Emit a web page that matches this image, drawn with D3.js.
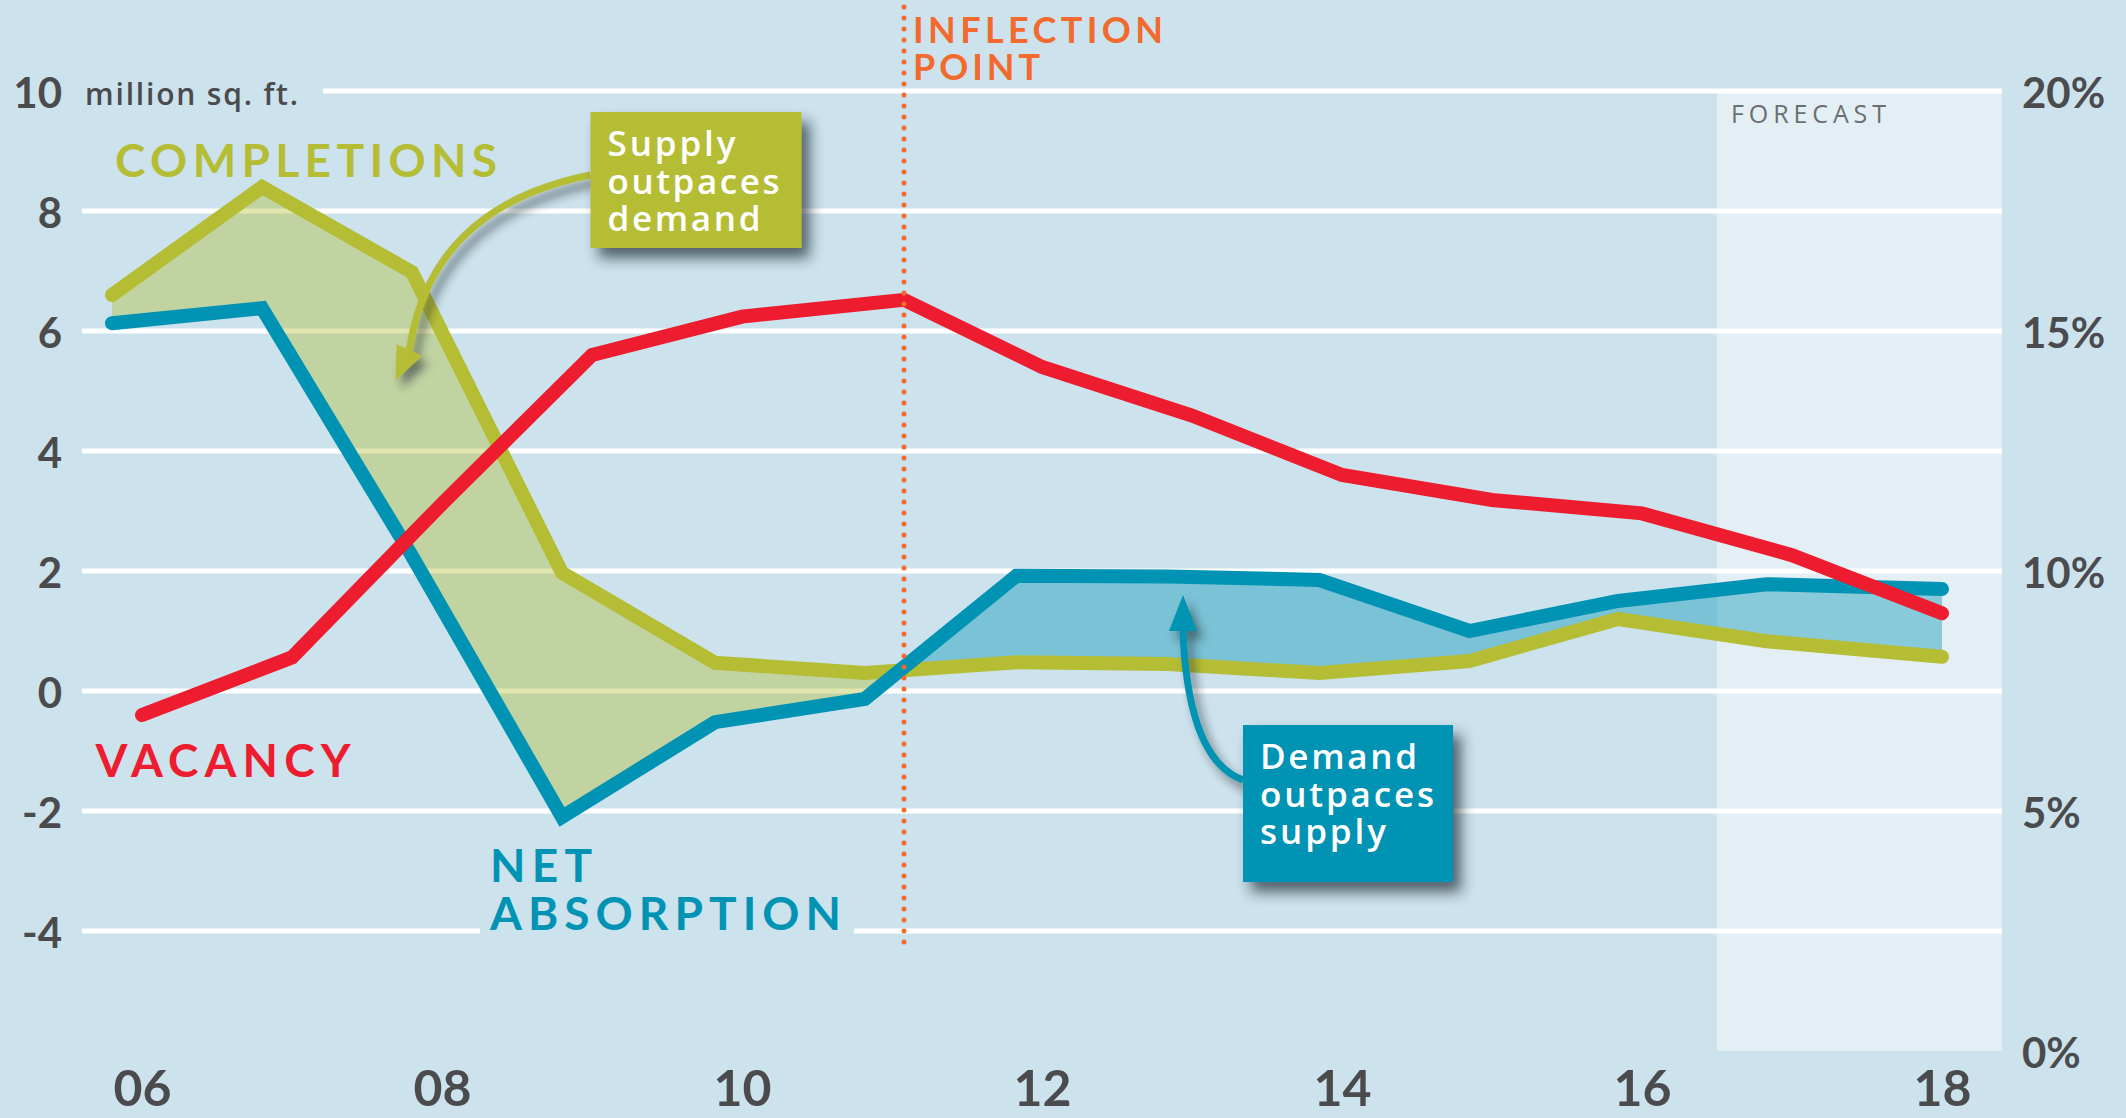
<!DOCTYPE html>
<html>
<head>
<meta charset="utf-8">
<script src="https://cdn.jsdelivr.net/npm/d3@7"></script>
<style>
  body { margin: 0; background: #cce2ec; }
  svg { display: block; }
</style>
</head>
<body>
<div id="viz"></div>
<script>
const width = 2126;
const height = 1118;
const font = "Lato, 'Open Sans', sans-serif";
const noteFont = "'Open Sans', Lato, sans-serif";

const bgColor = '#cce2ec';
const green = '#b5bd35';
const blue = '#0093b4';
const red = '#ed1c2e';
const orange = '#f26a2d';
const darkGray = '#4b4b4d';

// Data: completions & net absorption (million sq. ft.)
const supplyYears = [2005.8, 2006.8, 2007.8, 2008.8, 2009.82, 2010.82, 2011.83, 2012.84, 2013.85, 2014.85, 2015.84, 2016.83, 2018];
const completions = [6.6, 8.4, 6.98, 1.97, 0.47, 0.3, 0.48, 0.45, 0.3, 0.5, 1.2, 0.83, 0.57];
const netAbsorption = [6.13, 6.38, 2.25, -2.1, -0.52, -0.13, 1.92, 1.91, 1.85, 1.0, 1.5, 1.78, 1.7];

// Vacancy rate (%), right axis
const vacancyYears = [2006, 2007, 2008, 2009, 2010, 2011.08, 2012, 2013, 2014, 2015, 2016, 2017, 2018];
const vacancy = [7.0, 8.2, 11.4, 14.5, 15.3, 15.65, 14.25, 13.24, 12.0, 11.48, 11.2, 10.33, 9.12];

const leftTicks = [10, 8, 6, 4, 2, 0, -2, -4];
const rightTicks = [0, 5, 10, 15, 20];
const xTicks = [2006, 2008, 2010, 2012, 2014, 2016, 2018];

const inflectionYear = 2011.08;
const forecastStart = 2016.5;
const plotStart = 2005.6;
const plotEnd = 2018.4;

// Scales
const x = d3.scaleLinear().domain([2006, 2018]).range([142, 1942]);
const y = d3.scaleLinear().domain([-6, 10]).range([1051, 91]);
const yPct = d3.scaleLinear().domain([0, 20]).range([1051, 91]);

const supply = supplyYears.map((yr, i) => ({year: yr, comp: completions[i], abs: netAbsorption[i]}));
const vac = vacancyYears.map((yr, i) => ({year: yr, v: vacancy[i]}));

const svg = d3.select('#viz')
  .append('svg')
    .attr('width', width)
    .attr('height', height)
    .attr('viewBox', [0, 0, width, height])
    .style('font-family', font);

const defs = svg.append('defs');
defs.append('filter')
    .attr('id', 'boxShadow')
    .attr('x', '-30%').attr('y', '-30%').attr('width', '170%').attr('height', '170%')
  .append('feDropShadow')
    .attr('dx', 8).attr('dy', 10).attr('stdDeviation', 7)
    .attr('flood-color', '#1d2b33').attr('flood-opacity', 0.7);
defs.append('filter')
    .attr('id', 'arrowShadow')
    .attr('x', '-40%').attr('y', '-40%').attr('width', '180%').attr('height', '180%')
  .append('feDropShadow')
    .attr('dx', 6).attr('dy', 8).attr('stdDeviation', 5)
    .attr('flood-color', '#1d2b33').attr('flood-opacity', 0.55);

// clip regions above / below the completions line
const belowComp = d3.area().x(d => x(d.year)).y0(height).y1(d => y(d.comp));
const aboveComp = d3.area().x(d => x(d.year)).y0(0).y1(d => y(d.comp));
defs.append('clipPath').attr('id', 'clipBelow').append('path').attr('d', belowComp(supply));
defs.append('clipPath').attr('id', 'clipAbove').append('path').attr('d', aboveComp(supply));

svg.append('rect')
    .attr('width', width).attr('height', height)
    .attr('fill', bgColor);

// Forecast band
svg.append('rect')
    .attr('x', x(forecastStart))
    .attr('y', y(10))
    .attr('width', x(plotEnd) - x(forecastStart))
    .attr('height', y(-6) - y(10))
    .attr('fill', '#e3eff4');

// Left axis labels
const yAxisLeft = d3.axisLeft(y)
  .tickValues(leftTicks)
  .tickSize(0)
  .tickPadding(0)
  .tickFormat(d => String(d));
const yLeftGroup = svg.append('g')
    .attr('transform', 'translate(62,0)')
    .call(yAxisLeft)
    .attr('font-family', font)
    .attr('font-size', 42);
yLeftGroup.select('.domain').remove();
yLeftGroup.selectAll('text')
    .attr('fill', darkGray)
    .attr('dy', '0.4em')
    .style('font-weight', 700);

const unitLabel = svg.append('text')
    .attr('x', 85)
    .attr('y', y(10) + 14)
    .attr('fill', darkGray)
    .style('font-family', noteFont)
    .style('font-size', '30px')
    .style('font-weight', 600)
    .attr('textLength', 213)
    .attr('lengthAdjust', 'spacing')
    .text('million sq. ft.');
const unitEnd = unitLabel.node().getBBox();

// Gridlines
svg.append('g')
    .attr('class', 'grid')
  .selectAll('line')
  .data(leftTicks)
  .join('line')
    .attr('x1', d => d === 10 ? unitEnd.x + unitEnd.width + 25 : x(plotStart))
    .attr('x2', x(plotEnd))
    .attr('y1', d => y(d))
    .attr('y2', d => y(d))
    .attr('stroke', '#ffffff')
    .attr('stroke-width', 5);

// Right axis labels
const yAxisRight = d3.axisRight(yPct)
  .tickValues(rightTicks)
  .tickSize(0)
  .tickPadding(0)
  .tickFormat(d => d + '%');
const yRightGroup = svg.append('g')
    .attr('transform', 'translate(2022,0)')
    .call(yAxisRight)
    .attr('font-family', font)
    .attr('font-size', 42);
yRightGroup.select('.domain').remove();
yRightGroup.selectAll('text')
    .attr('fill', darkGray)
    .attr('dy', '0.4em')
    .style('font-weight', 700);

// Bottom axis labels
const xAxis = d3.axisBottom(x)
  .tickValues(xTicks)
  .tickSize(0)
  .tickPadding(0)
  .tickFormat(d => String(d).slice(2));
const xGroup = svg.append('g')
    .attr('transform', 'translate(0,1071)')
    .call(xAxis)
    .attr('font-family', font)
    .attr('font-size', 50);
xGroup.select('.domain').remove();
xGroup.selectAll('text')
    .attr('fill', darkGray)
    .attr('dy', '0.7em')
    .style('font-weight', 700);

// Fills between completions and absorption
const band = d3.area()
  .x(d => x(d.year))
  .y0(d => y(d.abs))
  .y1(d => y(d.comp));
svg.append('path')
    .attr('d', band(supply))
    .attr('clip-path', 'url(#clipBelow)')
    .attr('fill', green)
    .attr('fill-opacity', 0.4);
svg.append('path')
    .attr('d', band(supply))
    .attr('clip-path', 'url(#clipAbove)')
    .attr('fill', blue)
    .attr('fill-opacity', 0.4);

// Lines
const compLine = d3.line().x(d => x(d.year)).y(d => y(d.comp));
const absLine = d3.line().x(d => x(d.year)).y(d => y(d.abs));
const vacLine = d3.line().x(d => x(d.year)).y(d => yPct(d.v));

const drawLine = (d, color) => svg.append('path')
    .attr('d', d)
    .attr('fill', 'none')
    .attr('stroke', color)
    .attr('stroke-width', 14)
    .attr('stroke-linejoin', 'miter')
    .attr('stroke-miterlimit', 10)
    .attr('stroke-linecap', 'round');
drawLine(compLine(supply), green);
drawLine(absLine(supply), blue);
drawLine(vacLine(vac), red);

// Series labels
const bigLabel = (txt, px, py, color, len) => svg.append('text')
    .attr('x', px)
    .attr('y', py)
    .attr('fill', color)
    .style('font-size', '46px')
    .style('font-weight', 700)
    .attr('textLength', len)
    .attr('lengthAdjust', 'spacing')
    .text(txt);

bigLabel('COMPLETIONS', x(2005.82), y(8.57), green, 382);
bigLabel('VACANCY', x(2005.69), y(-1.43), red, 255);

// gap in the -4 gridline behind the net absorption label
const netX = x(2008.32);
const netY = y(-3.18);
svg.append('rect')
    .attr('x', netX - 10)
    .attr('y', netY + 10)
    .attr('width', 374)
    .attr('height', 45)
    .attr('fill', bgColor);
bigLabel('NET', netX, netY, blue, 102);
bigLabel('ABSORPTION', netX, netY + 48, blue, 351);

// Inflection point
const ix = x(inflectionYear);
svg.append('line')
    .attr('x1', ix).attr('x2', ix)
    .attr('y1', y(11.4)).attr('y2', y(-4.3))
    .attr('stroke', orange)
    .attr('stroke-width', 5)
    .attr('stroke-linecap', 'round')
    .attr('stroke-dasharray', '0 11');
svg.append('text')
    .attr('x', ix + 9)
    .attr('y', y(10.8))
    .attr('fill', orange)
    .style('font-size', '36px')
    .style('font-weight', 700)
    .attr('textLength', 250)
    .attr('lengthAdjust', 'spacing')
    .text('INFLECTION');
svg.append('text')
    .attr('x', ix + 9)
    .attr('y', y(10.8) + 37)
    .attr('fill', orange)
    .style('font-size', '36px')
    .style('font-weight', 700)
    .attr('textLength', 127)
    .attr('lengthAdjust', 'spacing')
    .text('POINT');

// Forecast label
svg.append('text')
    .attr('x', x(forecastStart) + 14)
    .attr('y', y(9.47))
    .attr('fill', '#6d6e71')
    .style('font-family', noteFont)
    .style('font-size', '25px')
    .attr('textLength', 155)
    .attr('lengthAdjust', 'spacing')
    .text('FORECAST');

// Annotations: arrow + box
const notes = [
  {
    lines: ['Supply', 'outpaces', 'demand'],
    lens: [128, 172, 153],
    color: green,
    boxYear: 2008.99, boxValue: 9.65, w: 211, h: 136,
    startDy: 63,
    tipYear: 2007.69, tipValue: 5.18,
    headDir: [-0.42, 0.91], headLen: 33,
    ctrl: [35, 32]
  },
  {
    lines: ['Demand', 'outpaces', 'supply'],
    lens: [157, 174, 126],
    color: blue,
    boxYear: 2013.34, boxValue: -0.567, w: 210, h: 157,
    startDy: 55,
    tipYear: 2012.94, tipValue: 1.6,
    headDir: [0, -1], headLen: 36,
    ctrl: [5, -20]
  }
];

notes.forEach(n => {
  const bx = x(n.boxYear);
  const by = y(n.boxValue);
  const sx = bx, sy = by + n.startDy;
  const tx = x(n.tipYear), ty = y(n.tipValue);
  const baseX = tx - n.headDir[0] * n.headLen;
  const baseY = ty - n.headDir[1] * n.headLen;
  const cx = tx + n.ctrl[0], cy = sy + n.ctrl[1];

  const arrow = svg.append('g').attr('filter', 'url(#arrowShadow)');
  const p = d3.path();
  p.moveTo(sx, sy);
  p.quadraticCurveTo(cx, cy, baseX, baseY);
  arrow.append('path')
      .attr('d', p.toString())
      .attr('fill', 'none')
      .attr('stroke', n.color)
      .attr('stroke-width', 7);
  const nx = -n.headDir[1], ny = n.headDir[0];
  const hw = 14;
  arrow.append('polygon')
      .attr('points', [
        [tx, ty],
        [baseX + nx * hw, baseY + ny * hw],
        [baseX - nx * hw, baseY - ny * hw]
      ].map(pt => pt.join(',')).join(' '))
      .attr('fill', n.color);

  svg.append('rect')
      .attr('x', bx).attr('y', by)
      .attr('width', n.w).attr('height', n.h)
      .attr('fill', n.color)
      .attr('filter', 'url(#boxShadow)');
  svg.append('g')
    .selectAll('text')
    .data(n.lines)
    .join('text')
      .attr('x', bx + 17)
      .attr('y', (d, i) => by + 44 + i * 37.5)
      .attr('fill', '#ffffff')
      .style('font-family', noteFont)
      .style('font-size', '35px')
      .style('font-weight', 600)
      .attr('textLength', (d, i) => n.lens[i])
      .attr('lengthAdjust', 'spacing')
      .text(d => d);
});
</script>
</body>
</html>
